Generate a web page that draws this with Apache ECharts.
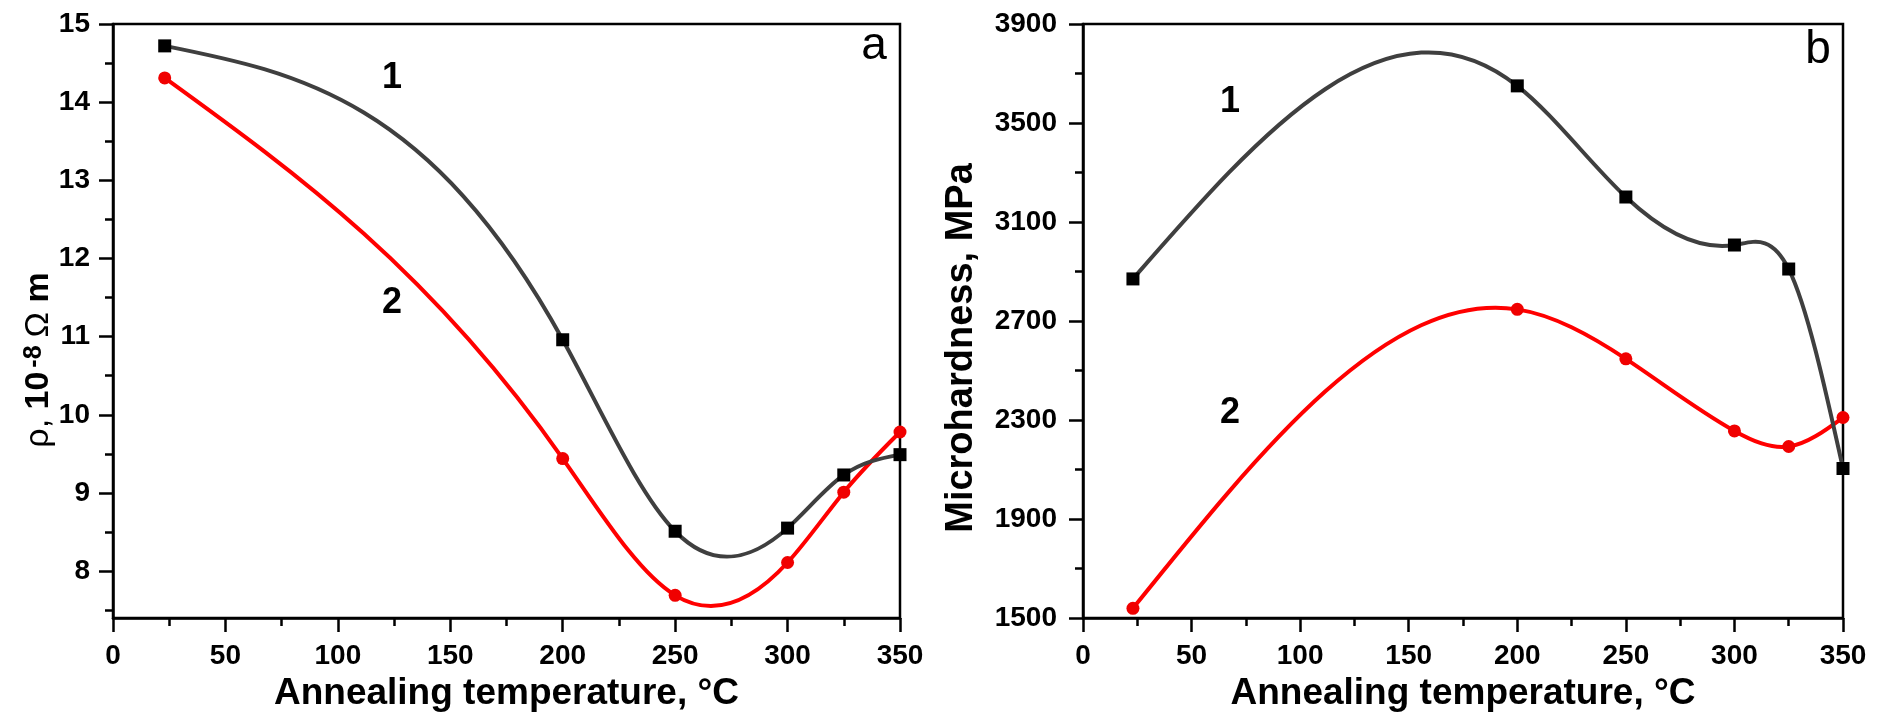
<!DOCTYPE html>
<html>
<head>
<meta charset="utf-8">
<title>Annealing temperature</title>
<script src="https://cdn.jsdelivr.net/npm/echarts@6/dist/echarts.min.js"></script>
<style>
  html, body { margin: 0; padding: 0; background: #fff; }
  #main { width: 1887px; height: 719px; }
</style>
</head>
<body>
<div id="main"></div>
<script>
// annealing temperature, C
var temps = [23, 200, 250, 300, 325, 350];
// (a) resistivity, 10^-8 Ohm m
var rho1 = [14.72, 10.96, 8.51, 8.55, 9.23, 9.49];
var rho2 = [14.31, 9.44, 7.69, 8.11, 9.01, 9.78];
// (b) microhardness, MPa
var hard1 = [2870, 3650, 3201, 3007, 2910, 2104];
var hard2 = [1539, 2747, 2547, 2256, 2193, 2310];
// tick values
var rhoTicks = [8, 9, 10, 11, 12, 13, 14, 15];
var rhoMinor = [7.5, 8.5, 9.5, 10.5, 11.5, 12.5, 13.5, 14.5];
var hardTicks = [1500, 1900, 2300, 2700, 3100, 3500, 3900];
var hardMinor = [1700, 2100, 2500, 2900, 3300, 3700];

var FONT = 'Liberation Sans, Arial, sans-serif';
var BLK = '#000';

function pairs(xs, ys) {
  var out = [];
  for (var i = 0; i < xs.length; i++) out.push([xs[i], ys[i]]);
  return out;
}

// natural cubic spline slopes at the nodes (the curves in the figure are spline-connected)
function splineSlopes(xs, ys) {
  var n = xs.length, h = [], a = [], b = [], c = [], r = [], i;
  for (i = 0; i < n - 1; i++) h.push(xs[i + 1] - xs[i]);
  for (i = 0; i < n; i++) {
    if (i === 0 || i === n - 1) { a.push(0); b.push(1); c.push(0); r.push(0); continue; }
    a.push(h[i - 1]); b.push(2 * (h[i - 1] + h[i])); c.push(h[i]);
    r.push(6 * ((ys[i + 1] - ys[i]) / h[i] - (ys[i] - ys[i - 1]) / h[i - 1]));
  }
  for (i = 1; i < n; i++) {
    var m = a[i] / b[i - 1];
    b[i] -= m * c[i - 1];
    r[i] -= m * r[i - 1];
  }
  var M = new Array(n);
  M[n - 1] = r[n - 1] / b[n - 1];
  for (i = n - 2; i >= 0; i--) M[i] = (r[i] - c[i] * M[i + 1]) / b[i];
  var d = [];
  for (i = 0; i < n - 1; i++) d.push((ys[i + 1] - ys[i]) / h[i] - h[i] * (2 * M[i] + M[i + 1]) / 6);
  d.push((ys[n - 1] - ys[n - 2]) / h[n - 2] + h[n - 2] * (M[n - 2] + 2 * M[n - 1]) / 6);
  return d;
}

function xAxisFor(grid) {
  return {
    gridIndex: grid, type: 'value', min: 0, max: 350, interval: 50,
    axisLine: { lineStyle: { color: BLK, width: 2.5 } },
    axisTick: { length: 14, lineStyle: { color: BLK, width: 2.5 } },
    minorTick: { show: true, splitNumber: 2, length: 8, lineStyle: { color: BLK, width: 2.5 } },
    splitLine: { show: false },
    axisLabel: { fontSize: 28, fontWeight: 'bold', color: BLK, fontFamily: FONT, margin: 24 },
    name: 'Annealing temperature, \u00B0C', nameLocation: 'middle', nameGap: 57,
    nameTextStyle: { fontSize: 37, fontWeight: 'bold', color: BLK, fontFamily: FONT }
  };
}

function yAxisFor(grid, min, max, ticks, margin) {
  return {
    gridIndex: grid, type: 'value', min: min, max: max, position: 'left',
    axisLine: { show: true, lineStyle: { color: BLK, width: 2.5 } },
    axisTick: { length: 14, customValues: ticks, lineStyle: { color: BLK, width: 2.5 } },
    splitLine: { show: false },
    axisLabel: {
      customValues: ticks, fontSize: 28, fontWeight: 'bold', color: BLK, fontFamily: FONT, margin: margin,
      formatter: function (v) { return String(v); }
    }
  };
}

// second axis only used for the short minor ticks
function minorAxisFor(grid, min, max, ticks) {
  return {
    gridIndex: grid, type: 'value', min: min, max: max, position: 'left',
    axisLine: { show: false },
    axisLabel: { show: false },
    splitLine: { show: false },
    axisTick: { show: true, length: 8, customValues: ticks, lineStyle: { color: BLK, width: 2.5 } }
  };
}

function curve(xi, yi, xs, ys, color, z) {
  var d = splineSlopes(xs, ys);
  return {
    type: 'custom', xAxisIndex: xi, yAxisIndex: yi, z: z, silent: true,
    data: pairs(xs, ys), encode: { x: 0, y: 1 },
    renderItem: function (params, api) {
      var i = params.dataIndex;
      if (i >= xs.length - 1) return null;
      var h = xs[i + 1] - xs[i];
      var p0 = api.coord([xs[i], ys[i]]);
      var p1 = api.coord([xs[i] + h / 3, ys[i] + h / 3 * d[i]]);
      var p2 = api.coord([xs[i + 1] - h / 3, ys[i + 1] - h / 3 * d[i + 1]]);
      var p3 = api.coord([xs[i + 1], ys[i + 1]]);
      return {
        type: 'bezierCurve',
        shape: { x1: p0[0], y1: p0[1], cpx1: p1[0], cpy1: p1[1], cpx2: p2[0], cpy2: p2[1], x2: p3[0], y2: p3[1] },
        style: { stroke: color, lineWidth: 4, fill: null, lineCap: 'round' }
      };
    }
  };
}

function markers(xi, yi, xs, ys, symbol, color, z) {
  return {
    type: 'scatter', xAxisIndex: xi, yAxisIndex: yi, z: z,
    data: pairs(xs, ys), symbol: symbol, symbolSize: 13,
    itemStyle: { color: color, opacity: 1 }
  };
}

function label(txt, x, y, size, weight) {
  return {
    type: 'text', x: x, y: y, z: 100,
    style: { text: txt, fontSize: size, fontWeight: weight, fontFamily: FONT, fill: BLK, align: 'center', verticalAlign: 'middle' }
  };
}

var chart = echarts.init(document.getElementById('main'));
var option = {
  backgroundColor: '#fff',
  animation: false,
  grid: [
    { left: 113, top: 24, width: 787, height: 594, show: true, borderColor: BLK, borderWidth: 2.5, backgroundColor: 'transparent' },
    { left: 1083, top: 24, width: 760, height: 594, show: true, borderColor: BLK, borderWidth: 2.5, backgroundColor: 'transparent' }
  ],
  xAxis: [xAxisFor(0), xAxisFor(1)],
  yAxis: [
    yAxisFor(0, 7.4, 15, rhoTicks, 23),
    minorAxisFor(0, 7.4, 15, rhoMinor),
    yAxisFor(1, 1500, 3900, hardTicks, 26),
    minorAxisFor(1, 1500, 3900, hardMinor)
  ],
  series: [
    curve(0, 0, temps, rho2, '#ff0000', 2),
    markers(0, 0, temps, rho2, 'circle', '#f00000', 3),
    curve(0, 0, temps, rho1, '#3f3f3f', 4),
    markers(0, 0, temps, rho1, 'rect', '#000', 5),
    curve(1, 2, temps, hard2, '#ff0000', 2),
    markers(1, 2, temps, hard2, 'circle', '#f00000', 3),
    curve(1, 2, temps, hard1, '#3f3f3f', 4),
    markers(1, 2, temps, hard1, 'rect', '#000', 5)
  ],
  graphic: [
    {
      type: 'text', x: 39, y: 360, rotation: Math.PI / 2, z: 100,
      style: {
        text: '{r|\u03C1, }{b|10}{s|-8}{r|\u03A9}{b| m}',
        align: 'center', verticalAlign: 'middle', fill: BLK,
        rich: {
          r: { fontSize: 34, fontFamily: FONT, fill: BLK },
          b: { fontSize: 34, fontWeight: 'bold', fontFamily: FONT, fill: BLK },
          s: { fontSize: 25, fontWeight: 'bold', fontFamily: FONT, fill: BLK, verticalAlign: 'top', padding: [0, 8, 0, 4] }
        }
      }
    },
    {
      type: 'text', x: 962, y: 348, rotation: Math.PI / 2, z: 100,
      style: {
        text: 'Microhardness, MPa', fontSize: 38, fontWeight: 'bold', fontFamily: FONT, fill: BLK,
        align: 'center', verticalAlign: 'middle'
      }
    },
    label('1', 392, 78, 36, 'bold'),
    label('2', 392, 303, 36, 'bold'),
    label('a', 874, 46, 46, 'normal'),
    label('1', 1230, 102, 36, 'bold'),
    label('2', 1230, 413, 36, 'bold'),
    label('b', 1818, 50, 46, 'normal')
  ]
};
chart.setOption(option);
</script>
</body>
</html>
